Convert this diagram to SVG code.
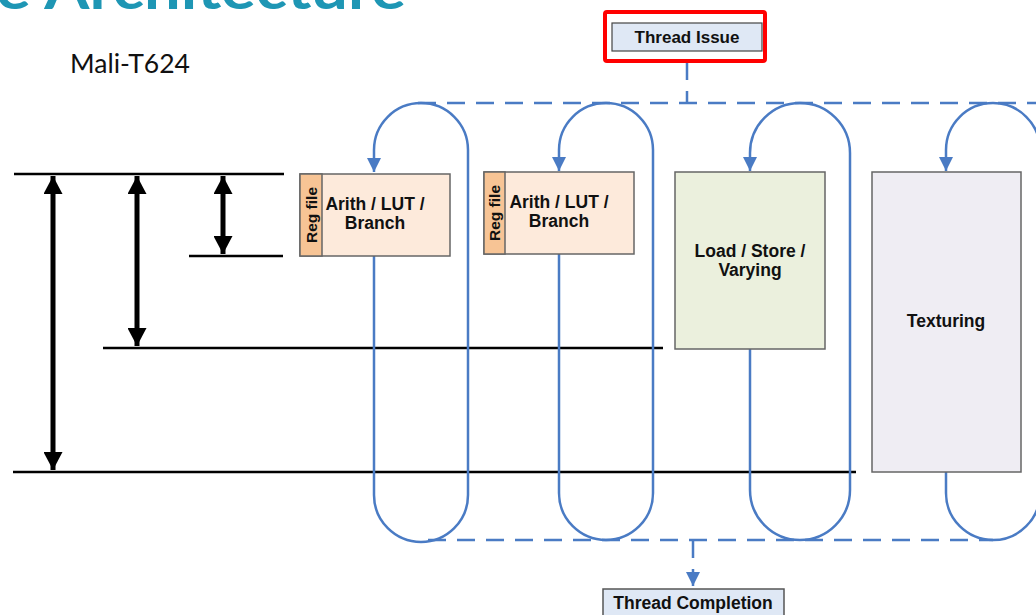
<svg xmlns="http://www.w3.org/2000/svg" width="1036" height="615" viewBox="0 0 1036 615">
<style>
.lbl{font-family:"Liberation Sans",Arial,sans-serif;font-weight:bold;font-size:17.5px;fill:#111;text-anchor:middle}
.small{font-size:17px}
.reg{font-size:15.5px}
.loop{fill:none;stroke:#4a7bc4;stroke-width:2.5}
.dash{fill:none;stroke:#4a7bc4;stroke-width:2.5;stroke-dasharray:18 11}
.blk{stroke:#000;stroke-width:2.5}
.dbl{stroke:#000;stroke-width:5}
.unit{stroke:#666;stroke-width:1.5}
</style>
<defs>
<marker id="blue" markerUnits="userSpaceOnUse" markerWidth="14" markerHeight="14" viewBox="0 0 14 14" refX="14" refY="7" orient="auto">
<path d="M0,0 L14,7 L0,14 Z" fill="#4a7bc4"/>
</marker>
<marker id="black" markerUnits="userSpaceOnUse" markerWidth="18" markerHeight="19" viewBox="0 0 18 19" refX="18" refY="9.5" orient="auto-start-reverse">
<path d="M0,0 L18,9.5 L0,19 Z" fill="#000"/>
</marker>
</defs>
<rect width="1036" height="615" fill="#fff"/>
<text x="-4" y="9" font-family="Lato,'Liberation Sans',sans-serif" font-weight="bold" font-size="56" fill="#1e96b4" textLength="410" lengthAdjust="spacingAndGlyphs">e Architecture</text>
<text x="70" y="73" font-family="Lato,'Liberation Sans',sans-serif" font-size="26.5" fill="#111">Mali-T624</text>

<g id="scale">
<line class="blk" x1="14" y1="174" x2="284" y2="174"/>
<line class="blk" x1="189" y1="256" x2="283" y2="256"/>
<line class="blk" x1="103" y1="348" x2="663" y2="348"/>
<line class="blk" x1="13" y1="472" x2="856" y2="472"/>
<line class="dbl" x1="53" y1="176" x2="53" y2="470" marker-start="url(#black)" marker-end="url(#black)"/>
<line class="dbl" x1="137" y1="176" x2="137" y2="346" marker-start="url(#black)" marker-end="url(#black)"/>
<line class="dbl" x1="223" y1="176" x2="223" y2="254" marker-start="url(#black)" marker-end="url(#black)"/>
</g>

<g id="connectors">
<line class="dash" x1="687" y1="62" x2="687" y2="103"/>
<line class="dash" x1="418" y1="103" x2="1036" y2="103"/>
<line class="dash" x1="428" y1="540" x2="993" y2="540"/>
<path class="dash" d="M693,540 L693,586" marker-end="url(#blue)"/>
<path class="loop" d="M374,256 L374,495 A47,47 0 0 0 468,495 L468,150 A47,47 0 0 0 374,150 L374,172" marker-end="url(#blue)"/>
<path class="loop" d="M559,254 L559,493 A47,47 0 0 0 653,493 L653,150 A47,47 0 0 0 559,150 L559,171" marker-end="url(#blue)"/>
<path class="loop" d="M750,349 L750,490 A50,50 0 0 0 850,490 L850,153 A50,50 0 0 0 750,153 L750,171" marker-end="url(#blue)"/>
<path class="loop" d="M946,472 L946,493 A47,47 0 0 0 1040,493 L1040,150 A47,47 0 0 0 946,150 L946,171" marker-end="url(#blue)"/>
</g>

<g id="thread-issue">
<rect x="605" y="12" width="160" height="49" rx="2" fill="none" stroke="#f00" stroke-width="4"/>
<rect x="612" y="23" width="150" height="28" fill="#dfe8f5" stroke="#444" stroke-width="1.2"/>
<text class="lbl small" x="687" y="43">Thread Issue</text>
</g>

<g id="arith1">
<rect class="unit" x="300" y="174" width="150" height="82" fill="#fdeadb"/>
<rect class="unit" x="300" y="174" width="22" height="82" fill="#f7c495"/>
<text class="lbl reg" transform="translate(317 215) rotate(-90)">Reg file</text>
<text class="lbl" x="375" y="210">Arith / LUT /</text>
<text class="lbl" x="375" y="229">Branch</text>
</g>

<g id="arith2">
<rect class="unit" x="484" y="172" width="150" height="82" fill="#fdeadb"/>
<rect class="unit" x="484" y="172" width="21" height="82" fill="#f7c495"/>
<text class="lbl reg" transform="translate(500 213) rotate(-90)">Reg file</text>
<text class="lbl" x="559" y="208">Arith / LUT /</text>
<text class="lbl" x="559" y="227">Branch</text>
</g>

<g id="loadstore">
<rect class="unit" x="675" y="172" width="150" height="177" fill="#ebf0dd"/>
<text class="lbl" x="750" y="257">Load / Store /</text>
<text class="lbl" x="750" y="276">Varying</text>
</g>

<g id="texturing">
<rect class="unit" x="872" y="172" width="149" height="300" fill="#efedf3"/>
<text class="lbl" x="946" y="327">Texturing</text>
</g>

<g id="thread-completion">
<rect x="603" y="589" width="181" height="40" fill="#dfe8f5" stroke="#555" stroke-width="1.5"/>
<text class="lbl" x="693" y="609">Thread Completion</text>
</g>
</svg>
